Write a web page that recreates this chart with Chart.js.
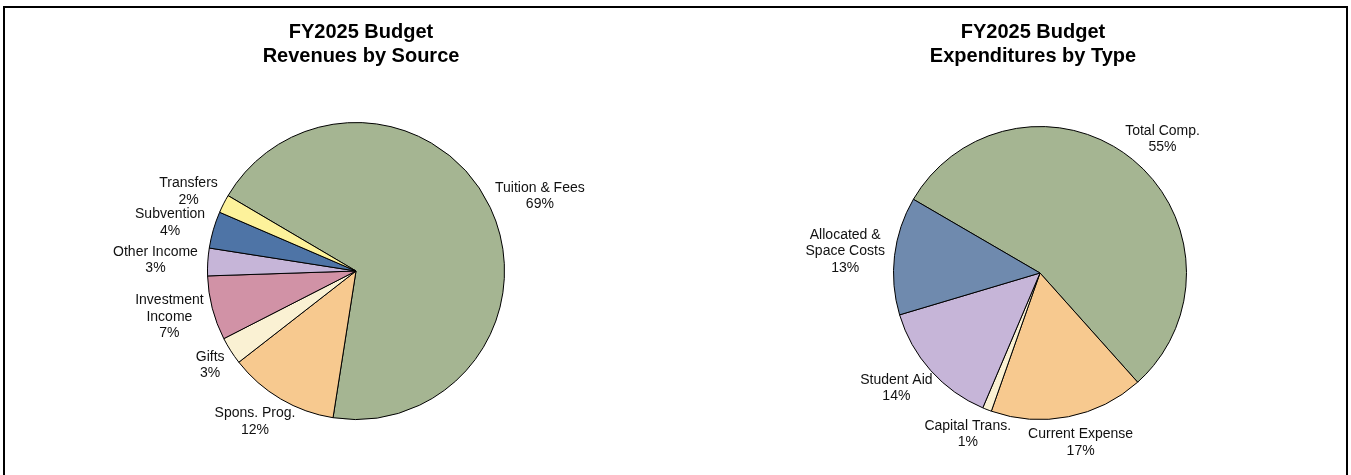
<!DOCTYPE html>
<html>
<head>
<meta charset="utf-8">
<script src="https://cdn.jsdelivr.net/npm/chart.js@4/dist/chart.umd.min.js"></script>
<style>
  html, body { margin: 0; padding: 0; background: #fff; }
  body { width: 1351px; height: 475px; position: relative; overflow: hidden; }
  .frame { position: absolute; left: 3px; top: 6px; width: 1341px; height: 500px;
           border-top: 2px solid #000; border-left: 2px solid #000; border-right: 2px solid #000; }
  .panel { position: absolute; top: 0; height: 475px; }
  #revPanel { left: 0; width: 722px; }
  #expPanel { left: 722px; width: 622px; }
</style>
</head>
<body>
<div class="frame"></div>
<div class="panel" id="revPanel"><canvas id="revChart"></canvas></div>
<div class="panel" id="expPanel"><canvas id="expChart"></canvas></div>
<script>
// FY2025 revenues by source (percent of total), clockwise from Tuition & Fees
const revenueLabels = [
  ['Tuition & Fees'], ['Spons. Prog.'], ['Gifts'], ['Investment', 'Income'],
  ['Other Income'], ['Subvention'], ['Transfers']
];
const revenueValues = [69, 12, 3, 7, 3, 4, 2];
const revenueColors = ['#a5b592', '#f7c98f', '#faf1d3', '#d192a6', '#c6b5d8', '#4e74a6', '#fdf29b'];

// FY2025 expenditures by type (percent of total), clockwise from Total Comp.
const expenseLabels = [
  ['Total Comp.'], ['Current Expense'], ['Capital Trans.'], ['Student Aid'], ['Allocated &', 'Space Costs']
];
const expenseValues = [55, 17, 1, 14, 13];
const expenseColors = ['#a5b592', '#f7c98f', '#faf1d3', '#c6b5d8', '#6f8aae'];

const revenueTitle = ['FY2025 Budget', 'Revenues by Source'];
const expenseTitle = ['FY2025 Budget', 'Expenditures by Type'];

const FONT = '"Liberation Sans", Arial, Helvetica, sans-serif';

// Two-line bold heading centred on the canvas
const headline = {
  id: 'headline',
  afterDraw(chart, args, opts) {
    const ctx = chart.ctx;
    ctx.save();
    ctx.fillStyle = '#000';
    ctx.font = 'bold ' + opts.size + 'px ' + FONT;
    ctx.textAlign = 'center';
    ctx.textBaseline = 'alphabetic';
    opts.lines.forEach((t, i) => ctx.fillText(t, chart.width / 2, opts.top + i * opts.lineHeight));
    ctx.restore();
  }
};

// Category name and percentage placed just outside each slice
const sliceLabels = {
  id: 'sliceLabels',
  afterDatasetsDraw(chart, args, opts) {
    const ctx = chart.ctx;
    const meta = chart.getDatasetMeta(0);
    const ds = chart.data.datasets[0];
    ctx.save();
    ctx.font = opts.size + 'px ' + FONT;
    ctx.fillStyle = '#111';
    ctx.textAlign = 'center';
    ctx.textBaseline = 'middle';
    meta.data.forEach((arc, i) => {
      const p = arc.getProps(['x', 'y', 'startAngle', 'endAngle', 'outerRadius'], true);
      const mid = (p.startAngle + p.endAngle) / 2;
      const ux = Math.cos(mid), uy = Math.sin(mid);
      const lines = chart.data.labels[i].concat([ds.data[i] + '%']);
      const w = Math.max(...lines.map(l => ctx.measureText(l).width));
      const h = lines.length * opts.lineHeight;
      const ax = p.x + (p.outerRadius + opts.gap) * ux;
      const ay = p.y + (p.outerRadius + opts.gap) * uy;
      const cx = ax + ux * w / 2;
      const cy = ay + uy * h / 2;
      lines.forEach((l, k) => {
        ctx.fillText(l, cx, cy - h / 2 + opts.lineHeight * (k + 0.5));
      });
    });
    ctx.restore();
  }
};

function makePie(id, labels, values, colors, title, rotation, padding) {
  return new Chart(document.getElementById(id), {
    type: 'pie',
    data: {
      labels: labels,
      datasets: [{
        data: values,
        backgroundColor: colors,
        borderColor: '#000',
        borderWidth: 1,
        hoverOffset: 0
      }]
    },
    options: {
      responsive: true,
      maintainAspectRatio: false,
      animation: false,
      rotation: rotation,
      layout: { padding: padding },
      events: [],
      plugins: {
        legend: { display: false },
        tooltip: { enabled: false },
        title: { display: false },
        headline: { lines: title, size: 20, top: 38, lineHeight: 24 },
        sliceLabels: { size: 14, lineHeight: 16.5, gap: 10 }
      }
    },
    plugins: [headline, sliceLabels]
  });
}

makePie('revChart', revenueLabels, revenueValues, revenueColors, revenueTitle, -59.5,
  { left: 207, right: 217, top: 122, bottom: 55 });
makePie('expChart', expenseLabels, expenseValues, expenseColors, expenseTitle, -59.8,
  { left: 171, right: 157, top: 126, bottom: 55 });
</script>
</body>
</html>
